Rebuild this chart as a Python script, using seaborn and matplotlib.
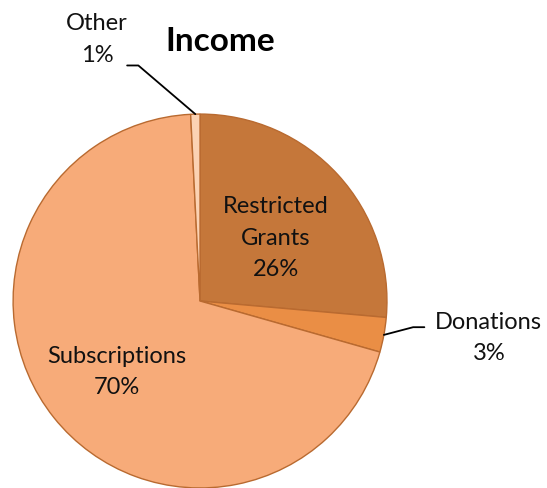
import numpy as np
import matplotlib
matplotlib.use("Agg")
import matplotlib.pyplot as plt
import seaborn as sns

# income breakdown (percent), clockwise from 12 o'clock
categories = ["Restricted\nGrants", "Donations", "Subscriptions", "Other"]
values = [26.4, 3.0, 69.8, 0.8]
colors = ["#C5773A", "#EA8E45", "#F7AB79", "#FBD2B3"]

sns.set_theme(style="white")
plt.rcParams["font.family"] = ["Lato", "DejaVu Sans"]

fig = plt.figure(figsize=(5.47, 4.88), dpi=100)
ax = fig.add_axes([0, 0, 1, 1])

wedges, _ = ax.pie(values, colors=colors, startangle=90, counterclock=False,
                   radius=1.0, center=(0, 0),
                   wedgeprops=dict(edgecolor="#B96A30", linewidth=1.0))

ax.set_aspect("equal")
ax.set_xlim(-1.07, 1.856)
ax.set_ylim(-1.0, 1.61)
ax.axis("off")

labels = [f"{c}\n{v:.0f}%" for c, v in zip(categories, values)]
fs = 17
ls = 1.62

# inside labels
ax.text(0.405, 0.337, labels[0], ha="center", va="center", fontsize=fs,
        linespacing=ls, color="#111111")
ax.text(-0.445, -0.38, labels[2], ha="center", va="center", fontsize=fs,
        linespacing=ls, color="#111111")

# outside labels with leader lines
def edge_point(w):
    mid = np.deg2rad((w.theta1 + w.theta2) / 2)
    return np.cos(mid), np.sin(mid)

tx, ty = edge_point(wedges[1])
ax.plot([tx, 1.14, 1.20], [ty, -0.14, -0.14], color="black", lw=1.3)
ax.text(1.545, -0.198, labels[1], ha="center", va="center", fontsize=fs,
        linespacing=ls, color="#111111")

tx, ty = edge_point(wedges[3])
ax.plot([tx, -0.33, -0.39], [ty, 1.26, 1.26], color="black", lw=1.3)
ax.text(-0.55, 1.40, labels[3], ha="center", va="center", fontsize=fs,
        linespacing=ls, color="#111111")

ax.text(0.11, 1.39, "Income", ha="center", va="center", fontsize=24,
        fontweight="bold", color="black")

fig.savefig("out.png", dpi=100)
